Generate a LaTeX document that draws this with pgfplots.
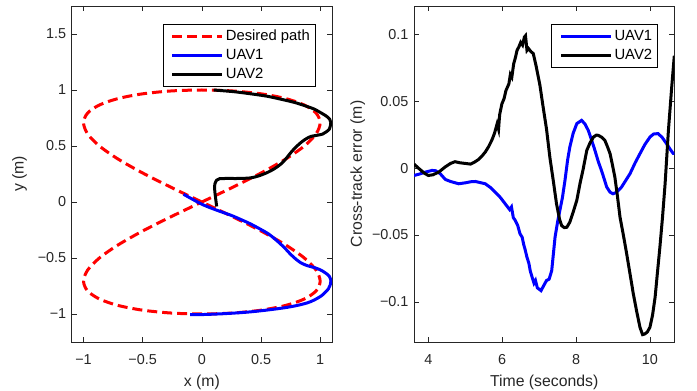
\documentclass[border=0pt]{standalone}
\usepackage{pgfplots}
\pgfplotsset{compat=1.18}
\usepackage{fontspec}
\setmainfont{Liberation Sans}
\definecolor{axgray}{rgb}{0.15,0.15,0.15}
\pgfplotsset{
  mystyle/.style={
    scale only axis, width=260.3bp, height=336bp,
    axis line style={axgray, line width=0.6bp},
    every tick/.style={axgray, line width=0.6bp},
    tick align=inside, major tick length=5bp,
    ticklabel style={font=\fontsize{14.4bp}{16bp}\selectfont, text=axgray},
    xticklabel style={yshift=-9bp},
    yticklabel style={xshift=-2bp},
    label style={font=\fontsize{15.8bp}{18bp}\selectfont, text=axgray},
    xlabel style={yshift=-3bp},
    /pgf/number format/assume math mode=true,
    scaled ticks=false,
    legend style={font=\fontsize{14.8bp}{17bp}\selectfont, draw=black,
      at={(0.9347,0.9464)}, anchor=north east, inner xsep=3bp, inner ysep=2.5bp,
      nodes={inner xsep=2bp, inner ysep=2.5bp, text height=11bp, text depth=3bp}},
    legend cell align=left,
    legend image code/.code={\path (-5bp,0bp); \draw[#1] (0bp,0bp) -- (50bp,0bp);},
  }
}
\begin{document}
\begin{tikzpicture}
\path[use as bounding box] (0,0) rectangle (697bp,391bp);
\begin{axis}[mystyle, at={(71.7bp,49bp)}, anchor=south west,
  xmin=-1.1, xmax=1.1, ymin=-1.25, ymax=1.75,
  xtick={-1,-0.5,0,0.5,1}, xticklabels={−1,−0.5,0,0.5,1},
  ytick={-1,-0.5,0,0.5,1,1.5}, yticklabels={−1,−0.5,0,0.5,1,1.5},
  ylabel style={yshift=4bp},
  xlabel={x (m)}, ylabel={y (m)}]
\addplot[red, line width=3bp, dash pattern=on 10bp off 5bp, smooth] coordinates {
(0,0) (0.2588,0.1305) (0.5,0.2588) (0.7071,0.3827) (0.8660,0.5) (0.9659,0.6088) (1,0.7071)
(0.9659,0.7934) (0.8660,0.8660) (0.7071,0.9239) (0.5,0.9659) (0.2588,0.9914) (0,1)
(-0.2588,0.9914) (-0.5,0.9659) (-0.7071,0.9239) (-0.8660,0.8660) (-0.9659,0.7934) (-1,0.7071)
(-0.9659,0.6088) (-0.8660,0.5) (-0.7071,0.3827) (-0.5,0.2588) (-0.2588,0.1305) (0,0)
(0.2588,-0.1305) (0.5,-0.2588) (0.7071,-0.3827) (0.8660,-0.5) (0.9659,-0.6088) (1,-0.7071)
(0.9659,-0.7934) (0.8660,-0.8660) (0.7071,-0.9239) (0.5,-0.9659) (0.2588,-0.9914) (0,-1)
(-0.2588,-0.9914) (-0.5,-0.9659) (-0.7071,-0.9239) (-0.8660,-0.8660) (-0.9659,-0.7934) (-1,-0.7071)
(-0.9659,-0.6088) (-0.8660,-0.5) (-0.7071,-0.3827) (-0.5,-0.2588) (-0.2588,-0.1305) (0,0)
};
\addlegendentry{Desired path}
\addplot[blue, line width=3bp, smooth] coordinates {
(-0.155,0.069) (-0.08,0.025) (0.0,-0.02) (0.08,-0.055) (0.157,-0.085) (0.25,-0.12) (0.327,-0.155)
(0.41,-0.195) (0.497,-0.244) (0.57,-0.29) (0.638,-0.349) (0.70,-0.41) (0.751,-0.468) (0.80,-0.515)
(0.836,-0.543) (0.89,-0.568) (0.949,-0.585) (1.00,-0.605) (1.04,-0.63) (1.075,-0.66) (1.09,-0.70)
(1.085,-0.74) (1.07,-0.775) (1.04,-0.81) (1.006,-0.841) (0.95,-0.875) (0.893,-0.90) (0.80,-0.925)
(0.694,-0.945) (0.55,-0.965) (0.41,-0.981) (0.27,-0.992) (0.13,-1.0) (0.0,-1.005) (-0.1,-1.005)
};
\addlegendentry{UAV1}
\addplot[black, line width=3bp, smooth] coordinates {
(0.10,1.0) (0.27,0.985) (0.42,0.965) (0.553,0.944) (0.68,0.915) (0.78,0.89) (0.87,0.86) (0.949,0.83)
(1.0,0.80) (1.048,0.77) (1.08,0.74) (1.09,0.71) (1.085,0.675) (1.077,0.65) (1.05,0.625) (1.02,0.606)
(0.97,0.595) (0.92,0.585) (0.875,0.56) (0.836,0.53) (0.79,0.485) (0.751,0.44) (0.71,0.385)
(0.666,0.337) (0.61,0.295) (0.553,0.263) (0.48,0.233) (0.41,0.215) (0.31,0.21) (0.214,0.21)
(0.15,0.208) (0.125,0.195) (0.11,0.16) (0.108,0.12) (0.112,0.07) (0.118,0.02) (0.125,-0.04)
};
\addlegendentry{UAV2}
\end{axis}
\begin{axis}[mystyle, at={(414bp,49bp)}, anchor=south west,
  xmin=3.61, xmax=10.66, ymin=-0.13, ymax=0.1212,
  xtick={4,6,8,10}, xticklabels={4,6,8,10},
  ytick={-0.1,-0.05,0,0.05,0.1}, yticklabels={−0.1,−0.05,0,0.05,0.1},
  xlabel={Time (seconds)}, ylabel={Cross-track error (m)}]
\addplot[blue, line width=3bp] coordinates {
(3.61,-0.0055) (3.75,-0.0045) (3.92,-0.003) (4.1,-0.0017) (4.2,-0.002) (4.32,-0.0042) (4.46,-0.0085)
(4.6,-0.010) (4.82,-0.0117) (5.0,-0.011) (5.15,-0.0102) (5.27,-0.010) (5.4,-0.0108) (5.54,-0.0117)
(5.68,-0.0145) (5.81,-0.018) (5.95,-0.022) (6.08,-0.0267) (6.2,-0.031) (6.25,-0.029) (6.3,-0.037)
(6.35,-0.039) (6.42,-0.043) (6.48,-0.049) (6.54,-0.0517) (6.58,-0.057) (6.62,-0.061) (6.67,-0.0667)
(6.72,-0.071) (6.76,-0.077) (6.81,-0.0816) (6.86,-0.086) (6.9,-0.084) (6.95,-0.0895) (7.05,-0.0916)
(7.12,-0.088) (7.2,-0.084) (7.27,-0.083) (7.34,-0.0766) (7.43,-0.0517) (7.5,-0.04) (7.56,-0.0317)
(7.63,-0.022) (7.7,-0.009) (7.77,0.006) (7.83,0.0157) (7.92,0.026) (8.02,0.0333) (8.15,0.0357)
(8.24,0.033) (8.33,0.0282) (8.42,0.021) (8.51,0.0133) (8.6,0.005) (8.69,-0.002) (8.76,-0.008)
(8.83,-0.0142) (8.92,-0.018) (9.0,-0.0192) (9.1,-0.018) (9.23,-0.0142) (9.35,-0.009) (9.46,-0.0042)
(9.6,0.004) (9.73,0.0108) (9.86,0.0175) (10.0,0.0232) (10.1,0.0255) (10.22,0.0258) (10.33,0.023)
(10.45,0.0183) (10.55,0.014) (10.63,0.011) (10.66,0.011)
};
\addlegendentry{UAV1}
\addplot[black, line width=3bp] coordinates {
(3.61,0.003) (3.75,-0.0005) (3.9,-0.004) (4.0,-0.0055) (4.12,-0.005) (4.28,-0.003) (4.46,0.001)
(4.6,0.0035) (4.72,0.0048) (4.85,0.004) (5.0,0.0035) (5.14,0.003) (5.25,0.0045) (5.36,0.0065)
(5.45,0.009) (5.54,0.012) (5.63,0.016) (5.72,0.021) (5.79,0.026) (5.86,0.033) (5.9,0.029) (5.93,0.04)
(5.99,0.048) (6.05,0.052) (6.1,0.058) (6.18,0.063) (6.22,0.07) (6.26,0.068) (6.31,0.078) (6.36,0.083)
(6.4,0.088) (6.45,0.0906) (6.5,0.094) (6.55,0.092) (6.6,0.098) (6.63,0.099) (6.67,0.088) (6.71,0.0894)
(6.78,0.087) (6.84,0.0857) (6.92,0.076) (7.02,0.062) (7.1,0.047) (7.2,0.029) (7.29,0.008) (7.38,-0.009)
(7.47,-0.0267) (7.55,-0.038) (7.61,-0.043) (7.68,-0.0445) (7.75,-0.0442) (7.83,-0.0404) (7.92,-0.033)
(8.02,-0.024) (8.11,-0.011) (8.19,-0.001) (8.29,0.0133) (8.38,0.019) (8.47,0.0232) (8.55,0.0247)
(8.6,0.0245) (8.7,0.023) (8.78,0.0207) (8.85,0.016) (8.92,0.0108) (8.98,0.003) (9.05,-0.0067)
(9.12,-0.021) (9.19,-0.0367) (9.28,-0.05) (9.37,-0.064) (9.46,-0.079) (9.55,-0.094) (9.64,-0.107)
(9.73,-0.119) (9.8,-0.1245) (9.86,-0.124) (9.93,-0.1225) (10.0,-0.119) (10.07,-0.11) (10.14,-0.0966)
(10.2,-0.079) (10.27,-0.059) (10.34,-0.037) (10.41,-0.012) (10.5,0.028) (10.59,0.0607) (10.66,0.084)
};
\addlegendentry{UAV2}
\end{axis}
\end{tikzpicture}
\end{document}
